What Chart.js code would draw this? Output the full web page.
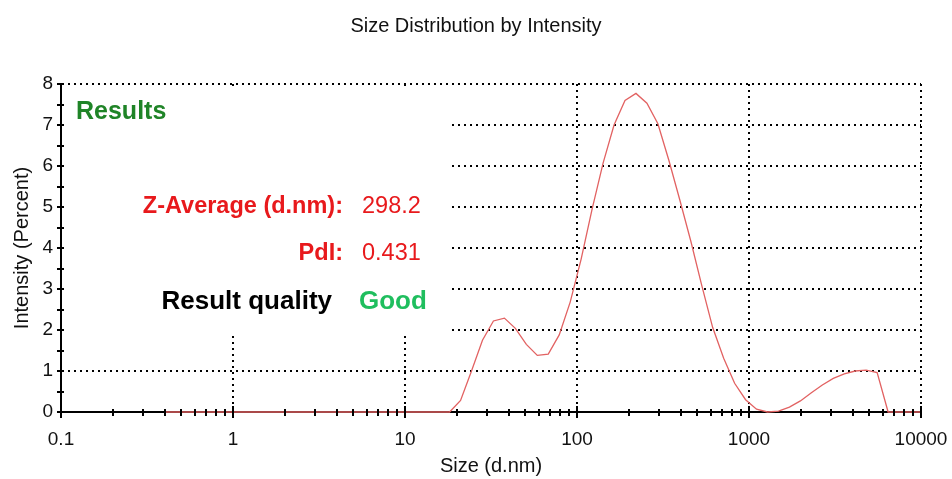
<!DOCTYPE html>
<html>
<head>
<meta charset="utf-8">
<script src="https://cdn.jsdelivr.net/npm/chart.js@4.4.1/dist/chart.umd.min.js"></script>
<style>
html,body{margin:0;padding:0;background:#fff;}
#wrap{width:952px;height:479px;position:relative;}
</style>
</head>
<body>
<div id="wrap"><canvas id="c" width="952" height="479"></canvas></div>
<script>
// ---------- data ----------
const chartTitle = 'Size Distribution by Intensity';
const xAxisTitle = 'Size (d.nm)';
const yAxisTitle = 'Intensity (Percent)';

const sizes = [0.4, 0.4632, 0.5365, 0.6213, 0.7195, 0.8332, 0.9649, 1.117, 1.294, 1.499,
  1.736, 2.01, 2.328, 2.696, 3.122, 3.615, 4.187, 4.849, 5.615, 6.503,
  7.531, 8.721, 10.1, 11.7, 13.54, 15.69, 18.17, 21.04, 24.36, 28.21,
  32.67, 37.84, 43.82, 50.75, 58.77, 68.06, 78.82, 91.28, 105.7, 122.4,
  141.8, 164.2, 190.1, 220.2, 255.0, 295.3, 342.0, 396.1, 458.7, 531.2,
  615.1, 712.4, 825.0, 955.4, 1106, 1281, 1484, 1718, 1990, 2305,
  2669, 3091, 3580, 4145, 4801, 5560, 6439, 7456, 8635, 10000];

const intensity = [0, 0, 0, 0, 0, 0, 0, 0, 0, 0,
  0, 0, 0, 0, 0, 0, 0, 0, 0, 0,
  0, 0, 0, 0, 0, 0, 0, 0.28, 1.0, 1.75,
  2.22, 2.29, 2.04, 1.65, 1.38, 1.41, 1.88, 2.68, 3.73, 4.95,
  6.07, 7.0, 7.6, 7.77, 7.53, 7.03, 6.14, 5.17, 4.17, 3.09,
  2.06, 1.31, 0.7, 0.3, 0.07, 0, 0.02, 0.12, 0.27, 0.47,
  0.66, 0.82, 0.93, 1.0, 1.02, 0.96, 0, 0, 0, 0];

const xTickValues = [0.1, 1, 10, 100, 1000, 10000];
const yTickValues = [0, 1, 2, 3, 4, 5, 6, 7, 8];

const resultsHeading = 'Results';
const resultLabels = ['Z-Average (d.nm):', 'PdI:', 'Result quality'];
const resultValues = ['298.2', '0.431', 'Good'];

// ---------- drawing ----------
const FONT = "'Liberation Sans', Arial, sans-serif";

const overlay = {
  id: 'overlay',
  beforeDatasetsDraw(chart) {
    const {ctx, chartArea: a, scales: {x, y}} = chart;
    ctx.save();
    // white results panel covering part of the grid
    const left = a.left + 2;
    const right = x.getPixelForValue(18.3);
    const top = a.top + 2;
    const bottom = y.getPixelForValue(1.95);
    ctx.fillStyle = '#fff';
    ctx.fillRect(left, top, right - left, bottom - top);

    ctx.textBaseline = 'alphabetic';
    // heading
    ctx.font = 'bold 25px ' + FONT;
    ctx.fillStyle = '#1f8427';
    ctx.textAlign = 'left';
    ctx.fillText(resultsHeading, a.left + 15, a.top + 35);

    // Z-average and PdI
    ctx.font = 'bold 23.5px ' + FONT;
    ctx.fillStyle = '#e8191c';
    ctx.textAlign = 'right';
    ctx.fillText(resultLabels[0], a.left + 282, a.top + 129);
    ctx.fillText(resultLabels[1], a.left + 282, a.top + 176);
    ctx.font = '23.5px ' + FONT;
    ctx.textAlign = 'left';
    ctx.fillText(resultValues[0], a.left + 301, a.top + 129);
    ctx.fillText(resultValues[1], a.left + 301, a.top + 176);

    // quality
    ctx.font = 'bold 26px ' + FONT;
    ctx.fillStyle = '#000';
    ctx.textAlign = 'right';
    ctx.fillText(resultLabels[2], a.left + 271, a.top + 225);
    ctx.fillStyle = '#1fbe5e';
    ctx.textAlign = 'left';
    ctx.fillText(resultValues[2], a.left + 298, a.top + 225);
    ctx.restore();
  },
  afterDraw(chart) {
    const {ctx, chartArea: a, scales: {x, y}} = chart;
    ctx.save();
    ctx.strokeStyle = '#000';
    ctx.lineWidth = 2;
    ctx.beginPath();
    // y ticks every 0.5 crossing the axis
    for (let v = 0; v <= 8; v += 0.5) {
      const py = Math.round(y.getPixelForValue(v));
      ctx.moveTo(a.left - 4, py);
      ctx.lineTo(a.left + 3, py);
    }
    // x ticks: decades long, minor short, crossing the axis
    for (const d of xTickValues) {
      const px = Math.round(x.getPixelForValue(d));
      ctx.moveTo(px, a.bottom - 6);
      ctx.lineTo(px, a.bottom + 6);
      if (d < 10000) {
        for (let m = 2; m <= 9; m++) {
          const pm = Math.round(x.getPixelForValue(d * m));
          ctx.moveTo(pm, a.bottom - 3);
          ctx.lineTo(pm, a.bottom + 4);
        }
      }
    }
    ctx.stroke();

    // chart title
    ctx.font = '20px ' + FONT;
    ctx.fillStyle = '#111';
    ctx.textAlign = 'center';
    ctx.textBaseline = 'middle';
    ctx.fillText(chartTitle, 476, 26);
    ctx.restore();
  }
};

new Chart(document.getElementById('c'), {
  type: 'line',
  data: {
    datasets: [{
      data: sizes.map((s, i) => ({x: s, y: intensity[i]})),
      borderColor: '#e26262',
      borderWidth: 1.3,
      pointRadius: 0,
      tension: 0,
      fill: false,
      clip: 4
    }]
  },
  options: {
    responsive: false,
    animation: false,
    layout: {padding: {top: 84, right: 31, bottom: 0, left: 0}},
    plugins: {
      legend: {display: false},
      tooltip: {enabled: false},
      title: {display: false}
    },
    scales: {
      x: {
        type: 'logarithmic',
        position: 'bottom',
        min: 0.1,
        max: 10000,
        afterBuildTicks: s => { s.ticks = xTickValues.map(v => ({value: v})); },
        afterFit: s => { s.height = 67; s.paddingLeft = 0; s.paddingRight = 0; },
        ticks: {
          autoSkip: false,
          maxRotation: 0,
          padding: 16,
          color: '#111',
          font: {family: FONT, size: 19},
          callback: v => String(v)
        },
        grid: {color: '#000', lineWidth: 2, drawTicks: false},
        border: {display: true, color: '#000', width: 2, dash: [2, 4]},
        title: {display: true, text: xAxisTitle, color: '#111',
          font: {family: FONT, size: 20}, padding: {top: 0, bottom: 1}}
      },
      y: {
        min: 0,
        max: 8,
        afterBuildTicks: s => { s.ticks = yTickValues.map(v => ({value: v})); },
        afterFit: s => { s.width = 61; },
        ticks: {
          padding: 8,
          color: '#111',
          font: {family: FONT, size: 19}
        },
        grid: {color: '#000', lineWidth: 2, drawTicks: false},
        border: {display: true, color: '#000', width: 2, dash: [2, 4]},
        title: {display: true, text: yAxisTitle, color: '#111',
          font: {family: FONT, size: 20}, padding: {top: 10, bottom: 0}}
      }
    }
  },
  plugins: [overlay]
});
</script>
</body>
</html>
